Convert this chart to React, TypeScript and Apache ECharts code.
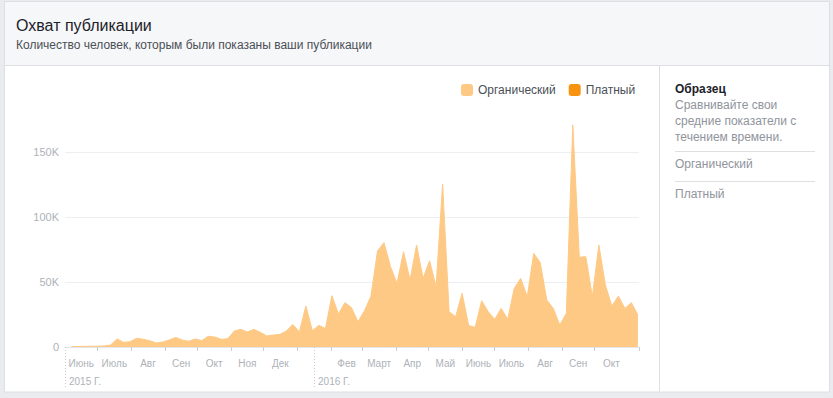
import React, { useEffect, useRef } from 'react';
import * as echarts from 'echarts';

const FONT = '"Liberation Sans", Arial, Helvetica, sans-serif';

const titleText = 'Охват публикации';
const subtitleText = 'Количество человек, которым были показаны ваши публикации';
const seriesNames = ['Органический', 'Платный'];
const panelTitle = 'Образец';
const panelLines = ['Сравнивайте свои', 'средние показатели с', 'течением времени.'];

// axis origin / end (dates)
const axisStart = '2015-06-01';
const axisEnd = '2016-11-11';

// data: one point every 6 days starting at firstDate
const firstDate = '2015-06-07';
const stepDays = 6;
const organic = [
  300, 400, 500, 600, 600, 800, 1500, 6200, 3600, 4100,
  6700, 5900, 4900, 3100, 3800, 5400, 7400, 5400, 4400, 6200,
  4900, 8200, 7700, 5900, 6400, 12300, 13600, 11500, 13600, 11300,
  8500, 9200, 9700, 12300, 17400, 11500, 31500, 12500, 16700, 14100,
  39500, 25400, 34100, 30300, 19500, 27900, 39200, 73800, 80300, 61800,
  49000, 73300, 51500, 78500, 52800, 66400, 46400, 125400, 27200, 23300,
  41300, 16500, 15100, 35600, 27200, 21300, 29700, 21300, 45100, 52800,
  38700, 72000, 64900, 36200, 29700, 16900, 25900, 170800, 69000, 69500,
  38700, 78500, 47700, 31500, 39200, 29700, 34100, 24600,
];
const paid: number[] = [];

// months shown on the axis (first day of each month) and their labels
const monthStarts = [
  '2015-06-01', '2015-07-01', '2015-08-01', '2015-09-01', '2015-10-01', '2015-11-01',
  '2015-12-01', '2016-01-01', '2016-02-01', '2016-03-01', '2016-04-01', '2016-05-01',
  '2016-06-01', '2016-07-01', '2016-08-01', '2016-09-01', '2016-10-01', '2016-11-01',
];
const monthLabels = [
  'Июнь', 'Июль', 'Авг', 'Сен', 'Окт', 'Ноя', 'Дек', '', 'Фев', 'Март', 'Апр', 'Май',
  'Июнь', 'Июль', 'Авг', 'Сен', 'Окт',
];
const yearLabels = ['2015 Г.', '2016 Г.'];
const yearMonthIndex = [0, 7];

const yTicks = { max: 150000, interval: 50000 };

const DAY = 86400000;
const dayOf = (d: string) => (Date.parse(d + 'T00:00:00Z') - Date.parse(axisStart + 'T00:00:00Z')) / DAY;

export default function App() {
  const ref = useRef<HTMLDivElement>(null);

  useEffect(() => {
    if (!ref.current) return;
    const chart = echarts.init(ref.current, undefined, { renderer: 'svg' });

    const start = dayOf(firstDate);
    const organicData = organic.map((v, i) => [start + i * stepDays, v]);
    const paidData = paid.map((v, i) => [start + i * stepDays, v]);

    const starts = monthStarts.map(dayOf);
    const endDay = dayOf(axisEnd);
    const tickValues = starts.slice(1, monthLabels.length).concat([endDay]);
    const labelMap = new Map<string, string>();
    const labelValues: number[] = [];
    monthLabels.forEach((lab, i) => {
      if (!lab) return;
      const c = (starts[i] + starts[i + 1]) / 2;
      labelValues.push(c);
      labelMap.set(c.toFixed(2), lab);
    });
    // year markers: June 2015 start, and centre of January 2016
    const yearValues = [starts[yearMonthIndex[0]], (starts[yearMonthIndex[1]] + starts[yearMonthIndex[1] + 1]) / 2];
    const yearMap = new Map<string, string>();
    yearValues.forEach((v, i) => yearMap.set(v.toFixed(2), yearLabels[i]));

    const orgColor = '#fec985';
    const paidColor = '#f7930f';
    const axisTextColor = '#aeb2b8';
    const border = '#dddfe2';

    const txt = (text: string, x: number, y: number, size: number, fill: string, weight = 'normal') => ({
      type: 'text',
      x,
      y,
      z: 100,
      style: { text, fill, font: `${weight} ${size}px ${FONT}`, textVerticalAlign: 'middle', verticalAlign: 'middle' },
    });
    const hline = (x1: number, x2: number, y: number) => ({
      type: 'line',
      z: -50,
      shape: { x1, y1: y, x2, y2: y },
      style: { stroke: border, lineWidth: 1 },
    });

    chart.setOption({
      animation: false,
      textStyle: { fontFamily: FONT },
      graphic: [
        { type: 'rect', z: -100, shape: { x: 0, y: 0, width: 833, height: 398 }, style: { fill: '#e9ebee' } },
        { type: 'rect', z: -90, shape: { x: 4.5, y: 1.5, width: 825, height: 390.5 }, style: { fill: '#ffffff', stroke: border, lineWidth: 1 } },
        { type: 'rect', z: -80, shape: { x: 5, y: 2, width: 824, height: 63 }, style: { fill: '#f6f7f9' } },
        hline(5, 829, 65.5),
        { type: 'line', z: -50, shape: { x1: 659.5, y1: 66, x2: 659.5, y2: 391.5 }, style: { stroke: border, lineWidth: 1 } },
        hline(675, 815, 151.5),
        hline(675, 815, 181.5),
        txt(titleText, 16, 25, 16, '#1d2129'),
        txt(subtitleText, 16, 44.5, 12, '#4b4f56'),
        txt(panelTitle, 675, 89, 12, '#1d2129', 'bold'),
        txt(panelLines[0], 675, 105, 12, '#90949c'),
        txt(panelLines[1], 675, 121, 12, '#90949c'),
        txt(panelLines[2], 675, 137, 12, '#90949c'),
        txt(seriesNames[0], 675, 164, 12, '#90949c'),
        txt(seriesNames[1], 675, 194, 12, '#90949c'),
      ],
      legend: {
        left: 456,
        top: 79,
        padding: 5,
        itemWidth: 12,
        itemHeight: 12,
        itemGap: 13,
        icon: 'roundRect',
        textStyle: { fontSize: 12, color: '#4b4f56', fontFamily: FONT },
        data: seriesNames,
      },
      grid: { left: 65, right: 194, top: 152, bottom: 51, containLabel: false },
      xAxis: [
        {
          type: 'value',
          min: 0,
          max: endDay,
          splitLine: { show: false },
          axisLine: { show: true, lineStyle: { color: '#e4e6ea', width: 1 } },
          axisTick: { show: true, customValues: tickValues, length: 4, lineStyle: { color: '#c9ccd1' } },
          axisLabel: {
            show: true,
            customValues: labelValues,
            formatter: (v: number) => labelMap.get(v.toFixed(2)) || '',
            color: axisTextColor,
            fontSize: 10,
            fontFamily: FONT,
            margin: 11,
            align: 'center',
          },
        },
        {
          type: 'value',
          min: 0,
          max: endDay,
          position: 'bottom',
          splitLine: { show: false },
          axisLine: { show: false },
          axisTick: { show: true, customValues: yearValues, length: 40, lineStyle: { color: '#c9ccd1', type: [1, 2] } },
          axisLabel: {
            show: true,
            customValues: yearValues,
            formatter: (v: number) => yearMap.get(v.toFixed(2)) || '',
            color: axisTextColor,
            fontSize: 10,
            fontFamily: FONT,
            margin: 29,
            align: 'left',
            padding: [0, 0, 0, 4],
          },
        },
      ],
      yAxis: {
        type: 'value',
        min: 0,
        max: yTicks.max,
        interval: yTicks.interval,
        axisLine: { show: false },
        axisTick: { show: false },
        splitLine: { show: true, lineStyle: { color: '#eceef1', width: 1 } },
        axisLabel: {
          formatter: (v: number) => (v === 0 ? '0' : v / 1000 + 'K'),
          color: axisTextColor,
          fontSize: 11,
          fontFamily: FONT,
          margin: 6,
        },
      },
      series: [
        {
          name: seriesNames[0],
          type: 'line',
          xAxisIndex: 0,
          data: organicData,
          symbol: 'none',
          clip: false,
          itemStyle: { color: orgColor },
          lineStyle: { color: orgColor, width: 1 },
          areaStyle: { color: orgColor, opacity: 1 },
          z: 3,
        },
        {
          name: seriesNames[1],
          type: 'line',
          xAxisIndex: 0,
          data: paidData,
          symbol: 'none',
          clip: false,
          itemStyle: { color: paidColor },
          lineStyle: { color: paidColor, width: 1 },
          areaStyle: { color: paidColor, opacity: 1 },
          z: 4,
        },
      ],
    });

    return () => chart.dispose();
  }, []);

  return <div ref={ref} style={{ position: 'absolute', left: 0, top: 0, width: 833, height: 398 }} />;
}
